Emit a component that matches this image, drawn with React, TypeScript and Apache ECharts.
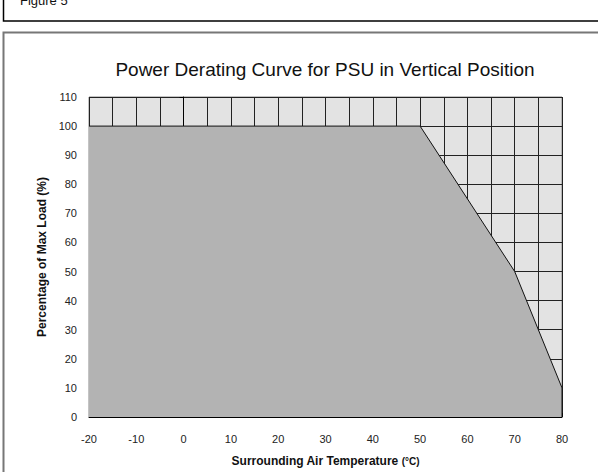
import React, { useEffect, useRef } from "react";
import * as echarts from "echarts";

const temperatures = [-20, 50, 70, 80, 80];
const loadPercent = [100, 100, 50, 10, 0];
const xTicks = { min: -20, max: 80, interval: 10 };
const yTicks = { min: 0, max: 110, interval: 10 };

export default function App() {
  const ref = useRef<HTMLDivElement>(null);
  useEffect(() => {
    if (!ref.current) return;
    const chart = echarts.init(ref.current, null, { renderer: "svg" });
    const font = "Liberation Sans, Arial, sans-serif";
    chart.setOption({
      animation: false,
      backgroundColor: "#ffffff",
      textStyle: { fontFamily: font },
      title: {
        text: "Power Derating Curve for PSU in Vertical Position",
        left: 320,
        top: 55,
        textAlign: "center",
        textStyle: { fontSize: 19, fontWeight: "normal", color: "#111", fontFamily: font },
      },
      graphic: [
        {
          type: "rect",
          shape: { x: 3.5, y: -10, width: 700, height: 31 },
          style: { fill: "none", stroke: "#000", lineWidth: 1.5 },
          silent: true,
        },
        {
          type: "text",
          x: 20,
          y: 7,
          style: { text: "Figure 5", fontSize: 13, fill: "#111", fontFamily: font, textVerticalAlign: "bottom" },
          silent: true,
        },
        {
          type: "rect",
          shape: { x: 3.5, y: 32.5, width: 700, height: 500 },
          style: { fill: "none", stroke: "#777", lineWidth: 2 },
          silent: true,
        },
      ],
      grid: {
        left: 89,
        right: 36,
        top: 97,
        bottom: 49,
        show: true,
        backgroundColor: "#e3e3e3",
        borderColor: "#888",
        borderWidth: 1,
      },
      xAxis: {
        type: "value",
        min: xTicks.min,
        max: xTicks.max,
        interval: xTicks.interval,
        name: "{b|Surrounding Air Temperature }{s|(°C)}",
        nameLocation: "middle",
        nameGap: 38,
        nameTextStyle: {
          rich: {
            b: { fontSize: 12, fontWeight: "bold", color: "#111", fontFamily: font },
            s: { fontSize: 10, fontWeight: "bold", color: "#111", fontFamily: font },
          },
        },
        axisLine: { show: true, onZero: false, lineStyle: { color: "#000", width: 1 } },
        axisTick: { show: true, inside: true, length: 4, lineStyle: { color: "#000" } },
        axisLabel: { fontSize: 11, color: "#222", margin: 16, fontFamily: font },
        splitLine: { show: true, lineStyle: { color: "#222", width: 1 } },
        minorTick: { show: false, splitNumber: 2 },
        minorSplitLine: { show: true, lineStyle: { color: "#222", width: 1 } },
      },
      yAxis: {
        type: "value",
        min: yTicks.min,
        max: yTicks.max,
        interval: yTicks.interval,
        name: "Percentage of Max Load (%)",
        nameLocation: "middle",
        nameGap: 41,
        nameTextStyle: { fontSize: 12, fontWeight: "bold", color: "#111", fontFamily: font },
        axisLine: { show: true, lineStyle: { color: "#000", width: 1 } },
        axisTick: { show: true, length: 4, lineStyle: { color: "#000" } },
        axisLabel: { fontSize: 11, color: "#222", margin: 12, fontFamily: font },
        splitLine: { show: true, lineStyle: { color: "#222", width: 1 } },
      },
      series: [
        {
          type: "line",
          data: temperatures.map((t, i) => [t, loadPercent[i]]),
          symbol: "none",
          lineStyle: { color: "#111", width: 1 },
          areaStyle: { color: "#b3b3b3", opacity: 1, origin: "start" },
        },
      ],
    });
    return () => chart.dispose();
  }, []);
  return (
    <div
      ref={ref}
      style={{ position: "fixed", left: 0, top: 0, width: 598, height: 472 }}
    />
  );
}
